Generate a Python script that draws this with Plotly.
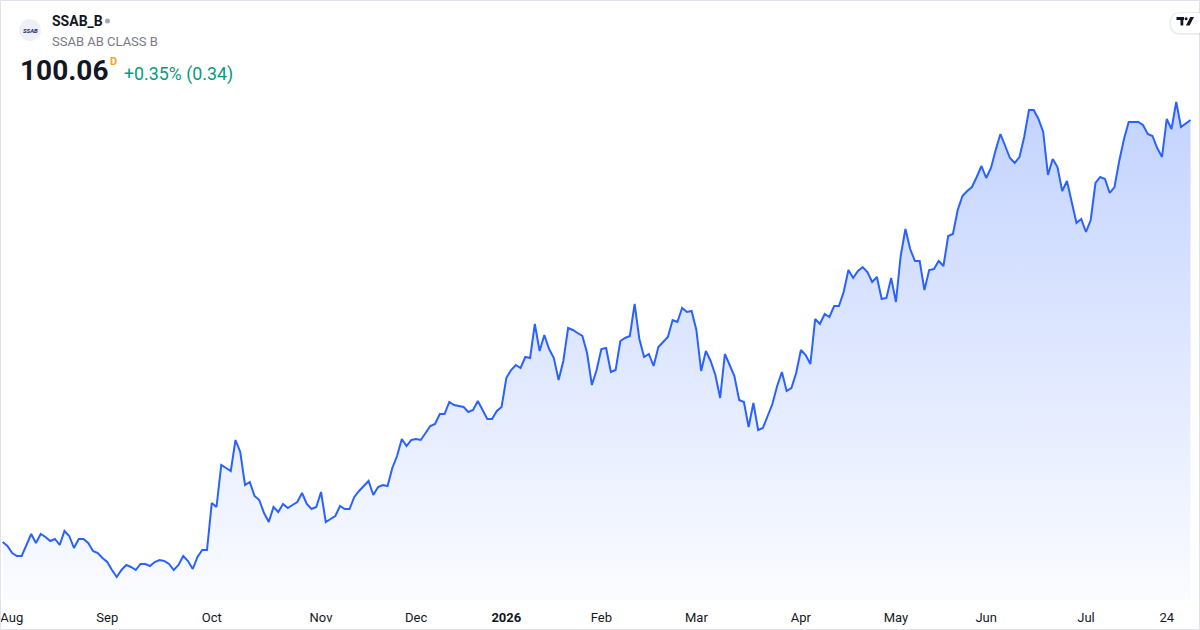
import pandas as pd
import plotly.graph_objects as go

# Nasdaq Stockholm trading days: weekdays minus exchange holidays
start_day = "2025-07-31"
end_day = "2026-07-31"
holidays = ["2025-12-24", "2025-12-25", "2025-12-26", "2025-12-31",
            "2026-01-01", "2026-01-06", "2026-04-03", "2026-04-06",
            "2026-05-01", "2026-05-14", "2026-06-19"]

# daily close, SEK
close = [
    57.86, 57.46, 56.76, 56.46, 56.46, 57.66, 58.66, 57.76, 58.66, 58.36,
    57.96, 58.16, 57.56, 58.96, 58.46, 57.26, 58.16, 58.16, 57.76, 56.96,
    56.76, 56.26, 55.86, 55.06, 54.36, 55.06, 55.56, 55.36, 55.06, 55.66,
    55.66, 55.46, 55.86, 56.06, 55.96, 55.66, 55.06, 55.56, 56.46, 55.96,
    55.16, 56.36, 57.06, 57.06, 61.76, 61.36, 65.56, 65.26, 64.96, 68.06,
    66.86, 63.56, 63.86, 62.46, 62.06, 60.76, 59.86, 61.36, 60.86, 61.66,
    61.26, 61.56, 61.86, 62.76, 61.66, 61.16, 61.36, 62.86, 59.86, 60.16,
    60.46, 61.46, 61.16, 61.16, 62.36, 62.96, 63.46, 63.96, 62.56, 63.36,
    63.56, 63.46, 65.26, 66.46, 68.16, 67.46, 68.06, 68.16, 68.06, 68.76,
    69.46, 69.66, 70.66, 70.66, 71.86, 71.56, 71.46, 71.36, 70.86, 71.06,
    71.96, 71.06, 70.16, 70.16, 70.96, 71.36, 74.26, 75.06, 75.56, 75.26,
    76.36, 76.26, 79.66, 76.96, 78.56, 77.16, 76.26, 74.06, 75.96, 79.26,
    79.06, 78.76, 78.46, 76.76, 73.56, 75.06, 77.16, 77.26, 74.86, 75.06,
    77.96, 78.26, 78.46, 81.66, 78.16, 76.36, 76.66, 75.46, 77.36, 77.86,
    78.36, 80.06, 79.86, 81.26, 80.86, 80.96, 79.06, 74.96, 76.96, 75.96,
    74.56, 72.26, 76.66, 75.56, 74.46, 72.06, 71.86, 69.36, 71.76, 69.06,
    69.26, 70.46, 71.66, 73.46, 74.86, 72.96, 73.26, 74.76, 77.06, 76.56,
    75.66, 80.16, 79.66, 80.66, 80.36, 81.46, 81.46, 82.86, 85.06, 84.26,
    84.96, 85.36, 84.86, 83.86, 84.36, 82.16, 82.26, 84.26, 81.86, 86.46,
    89.16, 87.16, 85.96, 85.96, 83.06, 85.06, 85.16, 85.96, 85.46, 88.46,
    88.66, 91.06, 92.46, 92.96, 93.36, 94.36, 95.46, 94.26, 95.26, 97.06,
    98.66, 97.46, 96.26, 95.76, 96.36, 98.36, 101.06, 101.06, 100.16, 98.86,
    94.56, 96.16, 95.36, 92.96, 93.96, 91.86, 89.76, 90.16, 88.86, 90.06,
    93.76, 94.36, 94.16, 92.76, 93.36, 95.96, 98.16, 99.86, 99.86, 99.86,
    99.56, 98.66, 98.46, 97.26, 96.36, 100.16, 99.16, 101.86, 99.36, 99.72,
    100.06,
]

tick_dates = ["2025-08-01 22:00", "2025-09-01", "2025-10-01", "2025-11-03",
              "2025-12-01", "2026-01-02", "2026-02-02", "2026-03-02",
              "2026-04-01", "2026-05-04", "2026-06-01", "2026-07-01",
              "2026-07-24"]
tick_labels = ["Aug", "Sep", "Oct", "Nov", "Dec", "<b>2026</b>", "Feb", "Mar",
               "Apr", "May", "Jun", "Jul", "24"]

symbol = "SSAB_B"
company = "SSAB AB CLASS B"
last_price = "100.06"
change_text = "+0.35% (0.34)"

days = pd.bdate_range(start_day, end_day)
days = days[~days.isin(pd.to_datetime(holidays))]

W, H, PLOT_H = 1200, 630, 600
y_lo, y_hi = 52.06, 112.06


def px(x):
    return x / W


def py(y):
    return (PLOT_H - y) / PLOT_H


def path(*cmds):
    out = []
    for c in cmds:
        if isinstance(c, str):
            out.append(c)
        else:
            out.append(f"{px(c[0]):.5f},{py(c[1]):.5f}")
    return " ".join(out)


FONT = "Roboto, Arial, sans-serif"
BLUE = "#2962FF"

fig = go.Figure()
fig.add_trace(go.Scatter(
    x=days, y=close,
    mode="lines",
    line=dict(color=BLUE, width=2),
    fill="tozeroy",
    fillgradient=dict(
        type="vertical",
        colorscale=[[0, "rgba(41,98,255,0.02)"], [1, "rgba(41,98,255,0.28)"]],
        start=y_lo, stop=max(close),
    ),
    hoverinfo="skip",
))

fig.update_layout(
    width=W, height=H,
    margin=dict(l=0, r=0, t=0, b=H - PLOT_H),
    paper_bgcolor="white", plot_bgcolor="white",
    showlegend=False,
    font=dict(family=FONT, color="#131722"),
    xaxis=dict(
        type="date",
        range=["2025-07-30 10:20", "2026-08-04"],
        rangebreaks=[dict(bounds=["sat", "mon"]), dict(values=holidays)],
        tickvals=tick_dates, ticktext=tick_labels,
        tickfont=dict(size=13, color="#131722"),
        ticklabelstandoff=8,
        ticks="", showgrid=False, zeroline=False, showline=False,
        fixedrange=True,
    ),
    yaxis=dict(range=[y_lo, y_hi], visible=False, fixedrange=True),
)

# header
ann = [
    dict(x=px(30), y=py(30), text="<i><b>SSAB</b></i>", xanchor="center",
         font=dict(size=6, color="#1c2a6b")),
    dict(x=px(50), y=py(21), text=f"<b>{symbol}</b>", xanchor="left",
         font=dict(size=14, color="#131722")),
    dict(x=px(50), y=py(41), text=company, xanchor="left",
         font=dict(size=13, color="#787b86")),
    dict(x=px(18), y=py(71), text=f"<b>{last_price}</b>", xanchor="left",
         font=dict(size=28, color="#131722")),
    dict(x=px(108), y=py(61), text="<b>D</b>", xanchor="left",
         font=dict(size=11, color="#f7a21b")),
    dict(x=px(122), y=py(74), text=change_text, xanchor="left",
         font=dict(size=17.8, color="#089981")),
]
for a in ann:
    a.update(xref="paper", yref="paper", yanchor="middle", showarrow=False)
fig.update_layout(annotations=ann)

shapes = [
    # card border
    dict(type="rect", x0=px(0.5), x1=px(1199.5), y0=py(629.5), y1=py(0.5),
         line=dict(color="#e0e3eb", width=1)),
    # symbol logo and market-status dot
    dict(type="circle", x0=px(19), x1=px(41), y0=py(41), y1=py(19),
         fillcolor="#eef0f7", line=dict(width=0)),
    dict(type="circle", x0=px(105), x1=px(110), y0=py(23.5), y1=py(18.5),
         fillcolor="#a3a6af", line=dict(width=0)),
    # TradingView badge
    dict(type="path", path=path("M", (1200, 12), "L", (1181, 12), "Q", (1169.5, 12),
                                (1169.5, 23.5), "Q", (1169.5, 35), (1181, 35), "L",
                                (1200, 35), "Z"),
         fillcolor="rgba(0,0,0,0.07)", line=dict(width=0)),
    dict(type="path", path=path("M", (1200, 13), "L", (1181, 13), "Q", (1171, 13),
                                (1171, 23), "Q", (1171, 33), (1181, 33), "L",
                                (1200, 33), "Z"),
         fillcolor="white", line=dict(width=0)),
    dict(type="path", path=path("M", (1176.5, 17), "L", (1184, 17), "L", (1184, 20),
                                "L", (1183.3, 20), "L", (1183.3, 25.5), "L",
                                (1180.5, 25.5), "L", (1180.5, 20), "L", (1176.5, 20),
                                "Z"),
         fillcolor="#131722", line=dict(width=0)),
    dict(type="circle", x0=px(1184.6), x1=px(1187.6), y0=py(20.3), y1=py(17.3),
         fillcolor="#131722", line=dict(width=0)),
    dict(type="path", path=path("M", (1190.3, 17), "L", (1194, 17), "L",
                                (1189.6, 25.5), "L", (1185.9, 25.5), "Z"),
         fillcolor="#131722", line=dict(width=0)),
]
for s in shapes:
    s.update(xref="paper", yref="paper", layer="above")
    fig.add_shape(**s)

# page has a default body margin; drop it so the card sits at 0,0
fig.write_html("out.html", config={"displayModeBar": False},
               post_script="document.body.style.margin = '0';")
